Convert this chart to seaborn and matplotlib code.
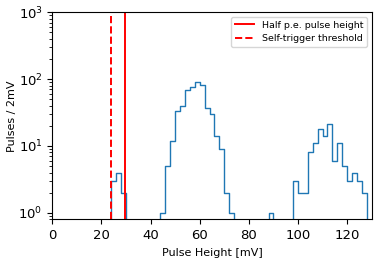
import numpy as np
import pandas as pd
import matplotlib
matplotlib.use("Agg")
import matplotlib.pyplot as plt
import seaborn as sns

# bin edges (2 mV wide) and counts
# (empty bins at both ends so the outline drops to the axis)
bin_edges = list(range(22, 131, 2))
counts = [0, 3, 4, 2, 0, 0, 0, 0, 0, 0, 0, 1, 5, 12, 33, 40, 68, 75, 89, 81, 37,
          30, 14, 9, 2, 1, 0, 0, 0, 0, 0, 0, 0, 1, 0, 0, 0, 0, 3, 2, 2, 8, 11,
          18, 14, 21, 6, 11, 5, 3, 4, 3, 2, 0]
centers = [e + 1 for e in bin_edges[:-1]]

half_pe = 29.5
threshold = 24

df = pd.DataFrame({"height": centers, "count": counts})

fig = plt.figure(figsize=(3.82, 2.61), dpi=100)
ax = fig.add_axes([0.137, 0.160, 0.836, 0.793])

sns.histplot(data=df, x="height", weights="count", bins=bin_edges,
             element="step", fill=False, color="#1f77b4", linewidth=1, ax=ax)
ax.axvline(half_pe, color="red", linewidth=1.4, label="Half p.e. pulse height")
ax.axvline(threshold, color="red", linestyle="--", linewidth=1.4,
           label="Self-trigger threshold")

ax.set_yscale("log")
ax.set_ylim(0.8, 1000)
ax.set_xlim(0, 130)
ax.set_xlabel("Pulse Height [mV]", fontsize=8)
ax.set_ylabel("Pulses / 2mV", fontsize=8, labelpad=1)
ax.tick_params(labelsize=9.5)
ax.legend(loc="upper right", fontsize=6.8)

fig.savefig("out.png", dpi=100)
